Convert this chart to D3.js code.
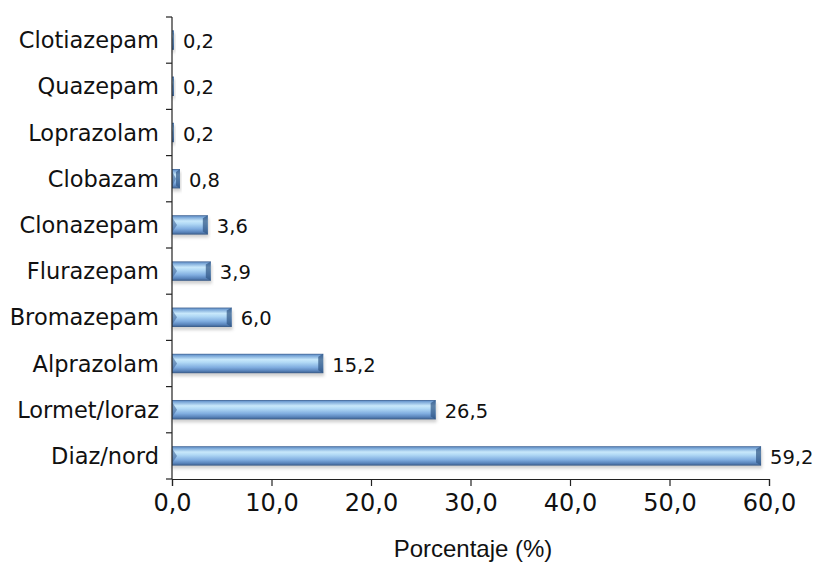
<!DOCTYPE html>
<html>
<head>
<meta charset="utf-8">
<script src="https://cdn.jsdelivr.net/npm/d3@7/dist/d3.min.js"></script>
<style>
  html, body { margin: 0; padding: 0; background: #fff; }
  svg { display: block; }
</style>
</head>
<body>
<svg id="chart" width="818" height="571"></svg>
<script>
const categories = ["Clotiazepam", "Quazepam", "Loprazolam", "Clobazam", "Clonazepam",
                    "Flurazepam", "Bromazepam", "Alprazolam", "Lormet/loraz", "Diaz/nord"];
const values = [0.2, 0.2, 0.2, 0.8, 3.6, 3.9, 6.0, 15.2, 26.5, 59.2];
const xTicks = [0, 10, 20, 30, 40, 50, 60];
const axisTitle = "Porcentaje (%)";

const data = categories.map((c, i) => ({ cat: c, val: values[i] }));
const fmt = v => d3.format(".1f")(v).replace(".", ",");

const svg = d3.select("#chart");
const x = d3.scaleLinear().domain([0, 60]).range([172, 769]);
const y = d3.scaleBand().domain(categories).range([17, 479])
  .paddingInner(0.58).paddingOuter(0.29);

const defs = svg.append("defs");
const g = defs.append("linearGradient").attr("id", "barGrad")
  .attr("x1", 0).attr("y1", 0).attr("x2", 0).attr("y2", 1);
[[0, "#3d5f8f"], [0.08, "#72a0d4"], [0.3, "#c8e8fb"], [0.45, "#b0d8f5"],
 [0.7, "#80ade0"], [0.88, "#5883ba"], [1, "#385985"]]
  .forEach(([o, c]) => g.append("stop").attr("offset", o).attr("stop-color", c));
const sh = defs.append("filter").attr("id", "shadow")
  .attr("x", "-5%").attr("y", "-20%").attr("width", "110%").attr("height", "180%");
sh.append("feGaussianBlur").attr("stdDeviation", 1.5);

// shadows
svg.append("g").selectAll("rect").data(data).join("rect")
  .attr("x", x(0)).attr("y", d => y(d.cat) + 3)
  .attr("width", d => x(d.val) - x(0) + 1)
  .attr("height", y.bandwidth())
  .attr("fill", "#999").attr("opacity", 0.45)
  .attr("filter", "url(#shadow)");

// bars
const bars = svg.append("g").selectAll("g").data(data).join("g");
bars.append("rect")
  .attr("x", x(0)).attr("y", d => y(d.cat))
  .attr("width", d => x(d.val) - x(0))
  .attr("height", y.bandwidth())
  .attr("fill", "url(#barGrad)");
// bevel ends
bars.append("path")
  .attr("d", d => {
    const x0 = x(0), x1 = x(d.val), y0 = y(d.cat), h = y.bandwidth();
    const b = Math.min(5, (x1 - x0) / 2);
    return `M${x0},${y0 + 2} L${x0 + b},${y0 + h / 2} L${x0},${y0 + h - 2} Z`;
  })
  .attr("fill", "#45699b").attr("opacity", 0.6);
bars.append("path")
  .attr("d", d => {
    const x0 = x(0), x1 = x(d.val), y0 = y(d.cat), h = y.bandwidth();
    const b = Math.min(5, (x1 - x0) / 2);
    return `M${x1},${y0} L${x1 - b},${y0 + 3} L${x1 - b},${y0 + h - 3} L${x1},${y0 + h} Z`;
  })
  .attr("fill", "#2f5584").attr("opacity", 0.7);

// value labels
svg.append("g").selectAll("text").data(data).join("text")
  .attr("x", d => x(d.val) + 9)
  .attr("y", d => y(d.cat) + y.bandwidth() / 2 + 8)
  .attr("font-family", "DejaVu Sans").attr("font-size", 19.5)
  .attr("fill", "#111")
  .text(d => fmt(d.val));

// y axis
const yAxis = d3.axisLeft(y).tickSize(0).tickPadding(13);
const ya = svg.append("g").attr("transform", `translate(${x(0)},0)`).call(yAxis);
ya.select(".domain").attr("stroke", "#222").attr("stroke-width", 1.2).attr("d", "M0,17V479");
ya.selectAll(".tick text").attr("font-family", "DejaVu Sans").attr("font-size", 22.5)
  .attr("fill", "#111").attr("dy", "0.36em");
// band boundary ticks
const bounds = categories.map(c => y(c) - y.step() * y.paddingInner() / 2).concat([479]);
ya.append("g").selectAll("line").data(bounds).join("line")
  .attr("x1", -6).attr("x2", 0).attr("y1", d => d).attr("y2", d => d)
  .attr("stroke", "#222").attr("stroke-width", 1.2);

// x axis
const xAxis = d3.axisBottom(x).tickValues(xTicks).tickFormat(fmt).tickSizeOuter(0).tickSize(7).tickPadding(8);
const xa = svg.append("g").attr("transform", "translate(0,479)").call(xAxis);
xa.select(".domain").attr("stroke", "#222").attr("stroke-width", 1.2);
xa.selectAll(".tick line").attr("stroke", "#222").attr("stroke-width", 1.2);
xa.selectAll(".tick text").attr("font-family", "DejaVu Sans").attr("font-size", 24).attr("fill", "#111");

svg.append("text").attr("x", 473).attr("y", 557).attr("text-anchor", "middle")
  .attr("font-family", "Liberation Sans, Arial, sans-serif").attr("font-size", 24)
  .attr("fill", "#111").text(axisTitle);
</script>
</body>
</html>
